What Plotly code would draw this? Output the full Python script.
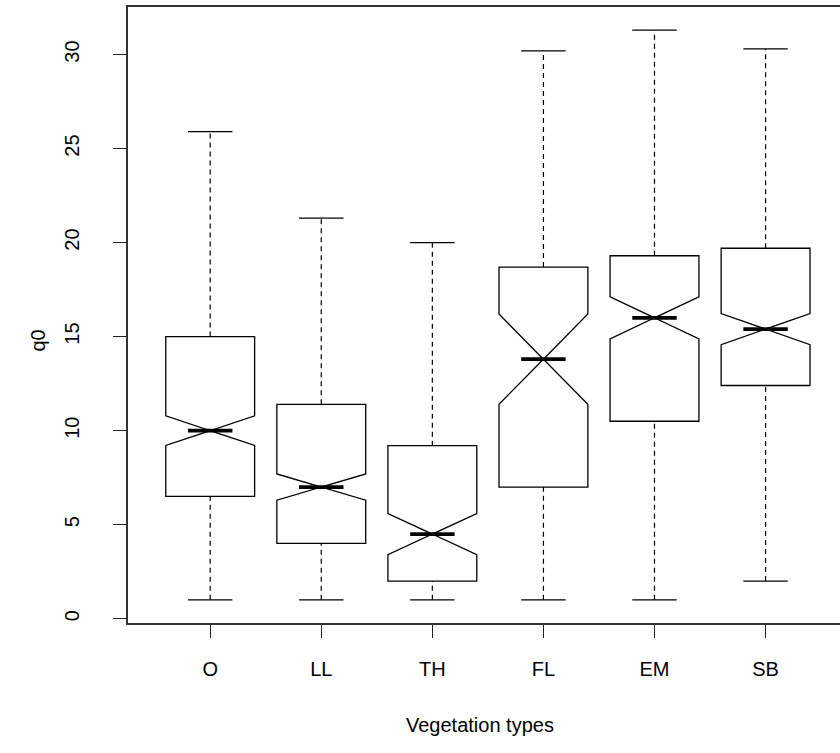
import plotly.graph_objects as go

# Vegetation types and five-number summaries of q0 per group
categories = ["O", "LL", "TH", "FL", "EM", "SB"]
lower_whisker = [1.0, 1.0, 1.0, 1.0, 1.0, 2.0]
q1_values = [6.5, 4.0, 2.0, 7.0, 10.5, 12.4]
median_values = [10.0, 7.0, 4.5, 13.8, 16.0, 15.4]
q3_values = [15.0, 11.4, 9.2, 18.7, 19.3, 19.7]
upper_whisker = [25.9, 21.3, 20.0, 30.2, 31.3, 30.3]
# half-span of the median confidence notch
notch_half = [0.79, 0.70, 1.09, 2.40, 1.12, 0.83]

y_ticks = [0, 5, 10, 15, 20, 25, 30]

positions = list(range(1, len(categories) + 1))
box_width = 0.8
cap_half = box_width / 4
ink = "black"
font_family = "Liberation Sans, Arial, sans-serif"
font_size = 20

fig = go.Figure()

# dashed whiskers from the box edges out to the extremes
wx, wy = [], []
for p, lo, a, b, hi in zip(positions, lower_whisker, q1_values, q3_values, upper_whisker):
    wx += [p, p, None, p, p, None]
    wy += [lo, a, None, b, hi, None]
fig.add_trace(go.Scatter(x=wx, y=wy, mode="lines", hoverinfo="skip",
                         line=dict(color=ink, width=1.2, dash="5px,4px")))

# whisker end caps
cx, cy = [], []
for p, lo, hi in zip(positions, lower_whisker, upper_whisker):
    cx += [p - cap_half, p + cap_half, None, p - cap_half, p + cap_half, None]
    cy += [lo, lo, None, hi, hi, None]
fig.add_trace(go.Scatter(x=cx, y=cy, mode="lines", hoverinfo="skip",
                         line=dict(color=ink, width=1.3)))

# notched boxes
fig.add_trace(go.Box(
    x=positions,
    q1=q1_values,
    median=median_values,
    q3=q3_values,
    lowerfence=q1_values,
    upperfence=q3_values,
    notchspan=notch_half,
    notched=True,
    notchwidth=0.5,
    width=box_width,
    whiskerwidth=0,
    boxpoints=False,
    fillcolor="white",
    line=dict(color=ink, width=1.3),
    hoverinfo="skip",
))

# heavy median bars across the notch waist
mx, my = [], []
for p, m in zip(positions, median_values):
    mx += [p - cap_half, p + cap_half, None]
    my += [m, m, None]
fig.add_trace(go.Scatter(x=mx, y=my, mode="lines", hoverinfo="skip",
                         line=dict(color=ink, width=3.8)))

fig.add_annotation(x=3.43, xref="x", y=-0.166, yref="paper", yanchor="middle",
                   text="Vegetation types", showarrow=False,
                   font=dict(family=font_family, size=font_size, color=ink))
fig.add_annotation(x=-0.126, xref="paper", y=0.459, yref="paper", textangle=-90,
                   xanchor="center", yanchor="middle",
                   text="q0", showarrow=False,
                   font=dict(family=font_family, size=font_size, color=ink))

fig.update_layout(
    width=840, height=753,
    margin=dict(l=128, r=0, t=7, b=130),
    paper_bgcolor="white", plot_bgcolor="white",
    showlegend=False,
    font=dict(family=font_family, size=font_size, color=ink),
    xaxis=dict(
        range=[0.26, 6.67],
        tickmode="array", tickvals=positions, ticktext=categories,
        ticks="outside", ticklen=13, tickcolor="#222", tickwidth=1,
        ticklabelstandoff=14,
        showline=True, linecolor="#333", linewidth=1.5, mirror=True,
        showgrid=False, zeroline=False,
    ),
    yaxis=dict(
        range=[-0.23, 32.53],
        tickmode="array", tickvals=y_ticks, ticktext=[str(v) for v in y_ticks],
        tickangle=-90,
        ticks="outside", ticklen=13, tickcolor="#222", tickwidth=1,
        ticklabelstandoff=26,
        showline=True, linecolor="#333", linewidth=1.5,
        showgrid=False, zeroline=False,
    ),
)

fig.write_html("out.html")
